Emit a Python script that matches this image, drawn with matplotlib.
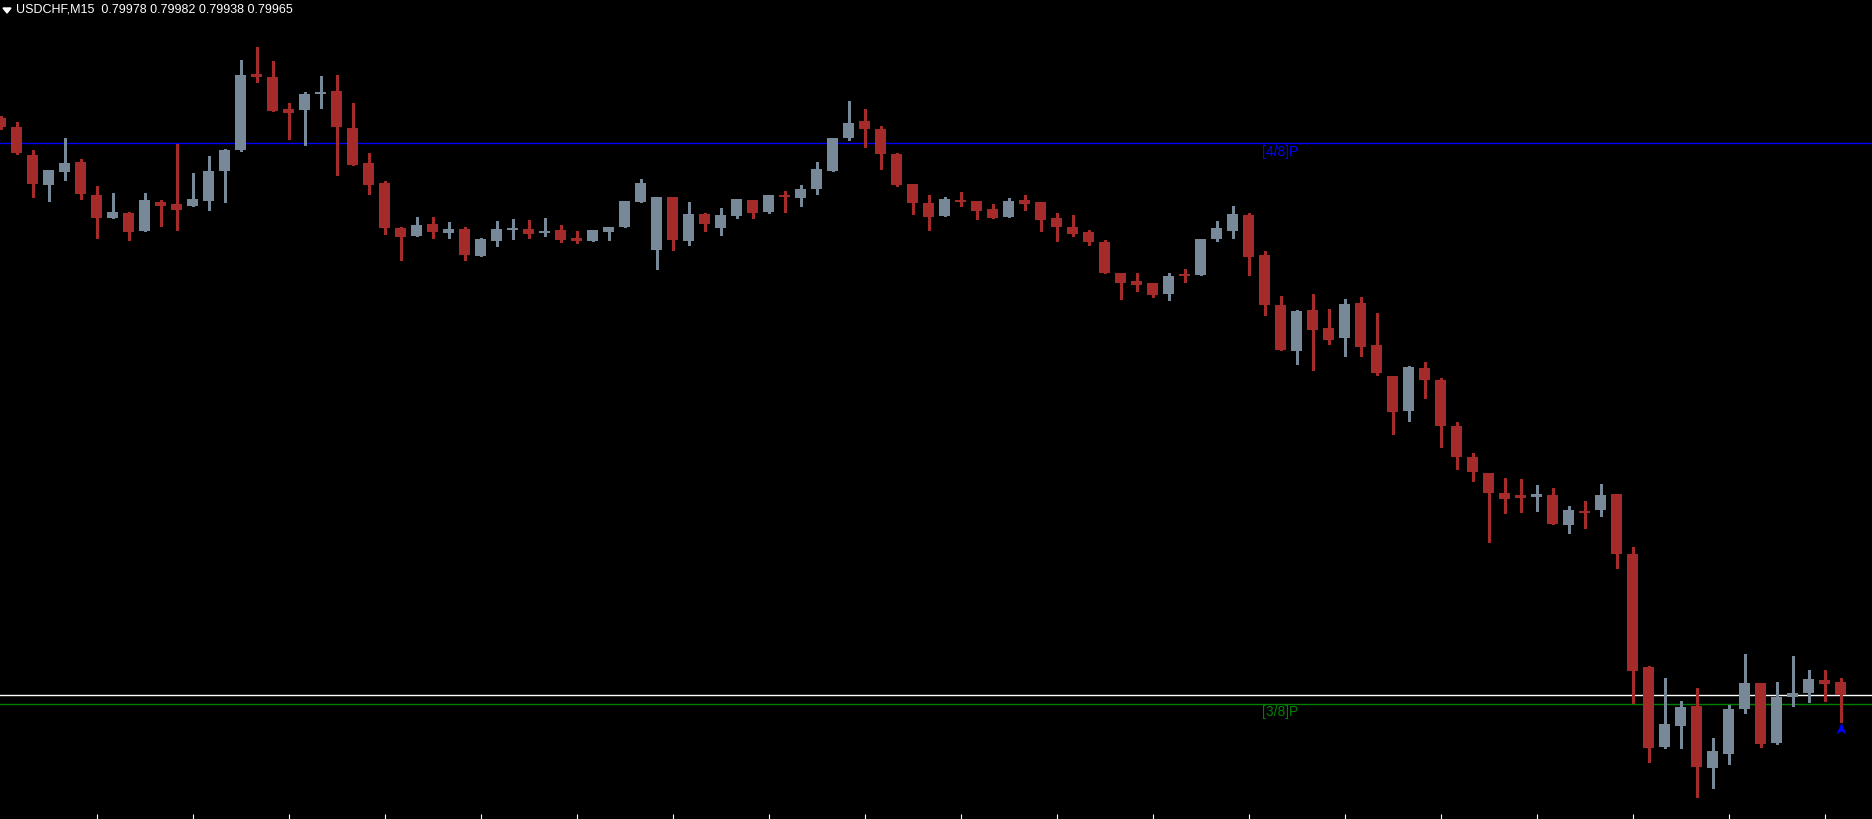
#!/usr/bin/env python3
# -*- coding: utf-8 -*-

import numpy as np
import matplotlib
matplotlib.use('Agg')
from matplotlib import pyplot as plt
from matplotlib.path import Path
from matplotlib.patches import Polygon

# USDCHF M15 candles (oldest first)
opens = [0.80542, 0.80533, 0.80505, 0.80475, 0.80488, 0.80498, 0.80465, 0.80442, 0.80447, 0.80429,
         0.80458, 0.80456, 0.80454, 0.80459, 0.80489, 0.80510, 0.80586, 0.80583, 0.80551, 0.80550,
         0.80566, 0.80569, 0.80532, 0.80497, 0.80477, 0.80432, 0.80424, 0.80436, 0.80427, 0.80431,
         0.80404, 0.80419, 0.80430, 0.80431, 0.80427, 0.80430, 0.80422, 0.80419, 0.80428, 0.80433,
         0.80458, 0.80410, 0.80463, 0.80419, 0.80446, 0.80432, 0.80444, 0.80460, 0.80448, 0.80465,
         0.80462, 0.80471, 0.80489, 0.80522, 0.80539, 0.80531, 0.80506, 0.80476, 0.80457, 0.80444,
         0.80460, 0.80459, 0.80451, 0.80443, 0.80460, 0.80458, 0.80442, 0.80433, 0.80428, 0.80418,
         0.80387, 0.80379, 0.80377, 0.80366, 0.80386, 0.80385, 0.80421, 0.80429, 0.80445, 0.80405,
         0.80355, 0.80309, 0.80350, 0.80332, 0.80322, 0.80357, 0.80315, 0.80284, 0.80249, 0.80292,
         0.80280, 0.80234, 0.80203, 0.80187, 0.80167, 0.80165, 0.80163, 0.80165, 0.80135, 0.80149,
         0.80150, 0.80166, 0.80106, 0.79993, 0.79913, 0.79934, 0.79954, 0.79892, 0.79906, 0.79951,
         0.79977, 0.79917, 0.79963, 0.79967, 0.79980, 0.79978]
highs = [0.80544, 0.80538, 0.80510, 0.80490, 0.80522, 0.80501, 0.80474, 0.80467, 0.80448, 0.80467,
         0.80460, 0.80516, 0.80487, 0.80504, 0.80511, 0.80600, 0.80613, 0.80599, 0.80557, 0.80568,
         0.80584, 0.80585, 0.80557, 0.80507, 0.80479, 0.80433, 0.80443, 0.80443, 0.80438, 0.80433,
         0.80422, 0.80439, 0.80441, 0.80440, 0.80442, 0.80435, 0.80429, 0.80430, 0.80433, 0.80459,
         0.80481, 0.80463, 0.80463, 0.80458, 0.80447, 0.80452, 0.80461, 0.80460, 0.80465, 0.80469,
         0.80475, 0.80498, 0.80522, 0.80559, 0.80551, 0.80534, 0.80507, 0.80476, 0.80465, 0.80463,
         0.80468, 0.80459, 0.80456, 0.80462, 0.80465, 0.80458, 0.80447, 0.80445, 0.80430, 0.80420,
         0.80387, 0.80387, 0.80377, 0.80387, 0.80391, 0.80421, 0.80439, 0.80454, 0.80447, 0.80409,
         0.80364, 0.80350, 0.80366, 0.80351, 0.80361, 0.80363, 0.80347, 0.80284, 0.80294, 0.80298,
         0.80282, 0.80238, 0.80207, 0.80187, 0.80182, 0.80181, 0.80175, 0.80172, 0.80154, 0.80159,
         0.80176, 0.80166, 0.80113, 0.79994, 0.79982, 0.79959, 0.79972, 0.79922, 0.79955, 0.80006,
         0.79977, 0.79978, 0.80004, 0.79990, 0.79990, 0.79982]
lows = [0.80531, 0.80506, 0.80463, 0.80459, 0.80480, 0.80461, 0.80422, 0.80442, 0.80420, 0.80429,
        0.80434, 0.80430, 0.80454, 0.80450, 0.80458, 0.80509, 0.80578, 0.80549, 0.80521, 0.80515,
        0.80552, 0.80485, 0.80495, 0.80466, 0.80426, 0.80400, 0.80424, 0.80422, 0.80422, 0.80400,
        0.80404, 0.80414, 0.80421, 0.80422, 0.80424, 0.80418, 0.80417, 0.80419, 0.80420, 0.80433,
        0.80458, 0.80391, 0.80410, 0.80415, 0.80429, 0.80425, 0.80442, 0.80442, 0.80447, 0.80448,
        0.80454, 0.80466, 0.80489, 0.80520, 0.80513, 0.80491, 0.80474, 0.80446, 0.80430, 0.80444,
        0.80454, 0.80441, 0.80442, 0.80443, 0.80450, 0.80429, 0.80419, 0.80424, 0.80415, 0.80387,
        0.80361, 0.80369, 0.80363, 0.80360, 0.80378, 0.80385, 0.80419, 0.80422, 0.80385, 0.80345,
        0.80310, 0.80296, 0.80290, 0.80316, 0.80304, 0.80304, 0.80285, 0.80226, 0.80239, 0.80262,
        0.80213, 0.80191, 0.80179, 0.80118, 0.80147, 0.80148, 0.80149, 0.80136, 0.80127, 0.80132,
        0.80144, 0.80092, 0.79957, 0.79898, 0.79912, 0.79912, 0.79863, 0.79872, 0.79896, 0.79947,
        0.79913, 0.79916, 0.79954, 0.79958, 0.79959, 0.79938]
closes = [0.80533, 0.80507, 0.80476, 0.80490, 0.80497, 0.80466, 0.80442, 0.80448, 0.80428, 0.80460,
          0.80454, 0.80450, 0.80461, 0.80489, 0.80510, 0.80585, 0.80583, 0.80549, 0.80547, 0.80566,
          0.80568, 0.80533, 0.80495, 0.80475, 0.80432, 0.80423, 0.80435, 0.80428, 0.80431, 0.80405,
          0.80421, 0.80431, 0.80432, 0.80426, 0.80429, 0.80420, 0.80419, 0.80430, 0.80433, 0.80459,
          0.80477, 0.80463, 0.80420, 0.80446, 0.80436, 0.80445, 0.80461, 0.80447, 0.80465, 0.80463,
          0.80471, 0.80491, 0.80522, 0.80537, 0.80531, 0.80506, 0.80475, 0.80457, 0.80443, 0.80461,
          0.80458, 0.80449, 0.80442, 0.80459, 0.80456, 0.80440, 0.80433, 0.80426, 0.80418, 0.80387,
          0.80377, 0.80375, 0.80365, 0.80384, 0.80384, 0.80421, 0.80432, 0.80446, 0.80403, 0.80355,
          0.80310, 0.80349, 0.80330, 0.80320, 0.80356, 0.80313, 0.80287, 0.80248, 0.80293, 0.80280,
          0.80234, 0.80203, 0.80188, 0.80167, 0.80161, 0.80162, 0.80166, 0.80136, 0.80150, 0.80147,
          0.80165, 0.80106, 0.79989, 0.79912, 0.79936, 0.79953, 0.79893, 0.79909, 0.79951, 0.79977,
          0.79916, 0.79963, 0.79967, 0.79981, 0.79976, 0.79965]

level_48 = 0.80517   # [4/8]P
level_38 = 0.79956   # [3/8]P
bid = 0.79965
arrow_price = 0.79931
title = 'USDCHF,M15  0.79978 0.79982 0.79938 0.79965'

BULL = '#778899'
BEAR = '#A52A2A'

def main():
	W, H = 1872, 819
	fig = plt.figure(figsize=(W/100, H/100), dpi=100, facecolor='black')
	ax = fig.add_axes([0, 0, 1, 1])
	ax.set_facecolor('black')

	n = len(opens)
	x = np.arange(n)
	o = np.array(opens); h = np.array(highs); l = np.array(lows); c = np.array(closes)
	cols = [BULL if c[i] > o[i] else BEAR for i in range(n)]

	# wicks
	ax.vlines(x, l, h, colors=cols, linewidth=0.75, antialiased=False, zorder=2)
	# bodies (dojis get a minimal height)
	hgt = np.maximum(np.abs(c - o), 0.00002)
	bot = np.minimum(o, c)
	ax.bar(x, hgt, bottom=bot, width=11/16, color=cols, linewidth=0, antialiased=False, zorder=3)

	# levels
	ax.axhline(level_48, color='#0000FF', linewidth=1.0, zorder=1)
	ax.axhline(level_38, color='#008000', linewidth=1.0, zorder=1)
	ax.axhline(bid, color='white', linewidth=1.0, zorder=1)

	lx = 78.83
	ax.text(lx, level_48 - 0.00002, '[4/8]P', color='#0000FF', fontsize=10,
		family='Liberation Sans', va='top', ha='left')
	ax.text(lx, level_38 - 0.00001, '[3/8]P', color='#008000', fontsize=10,
		family='Liberation Sans', va='top', ha='left')

	# signal arrow under the last bar
	arrow = Path([(0, 1), (0.7, -0.7), (0, -0.25), (-0.7, -0.7), (0, 1)],
		[Path.MOVETO, Path.LINETO, Path.LINETO, Path.LINETO, Path.CLOSEPOLY])
	ax.plot([n - 1], [arrow_price], marker=arrow, markersize=10, color='#0000FF',
		markeredgewidth=0, linestyle='none', zorder=4)

	# limits: 1 px per 0.00001, candle i centred at 16*i - 0.7 px
	ax.set_xlim(-0.7/16 - 0.0, W/16 - 0.7/16)
	ax.set_ylim(0.80660 - H*0.00001, 0.80660)

	ax.set_xticks(np.arange(6, n, 6))
	ax.set_yticks([])
	ax.tick_params(axis='x', direction='in', length=3.5, width=0.8, color='white',
		labelbottom=False, bottom=True)
	for s in ax.spines.values():
		s.set_visible(False)

	# header
	tri = Polygon([[3/100, (H-8)/100], [11/100, (H-8)/100], [7/100, (H-13)/100]],
		closed=True, color='white', transform=fig.dpi_scale_trans)
	fig.patches.append(tri)
	fig.text(16/W, 1 - 3/H, title, color='white', fontsize=9, family='Liberation Sans',
		va='top', ha='left')

	fig.savefig('out.png', dpi=100, facecolor='black')

if __name__ == "__main__":
	main()
